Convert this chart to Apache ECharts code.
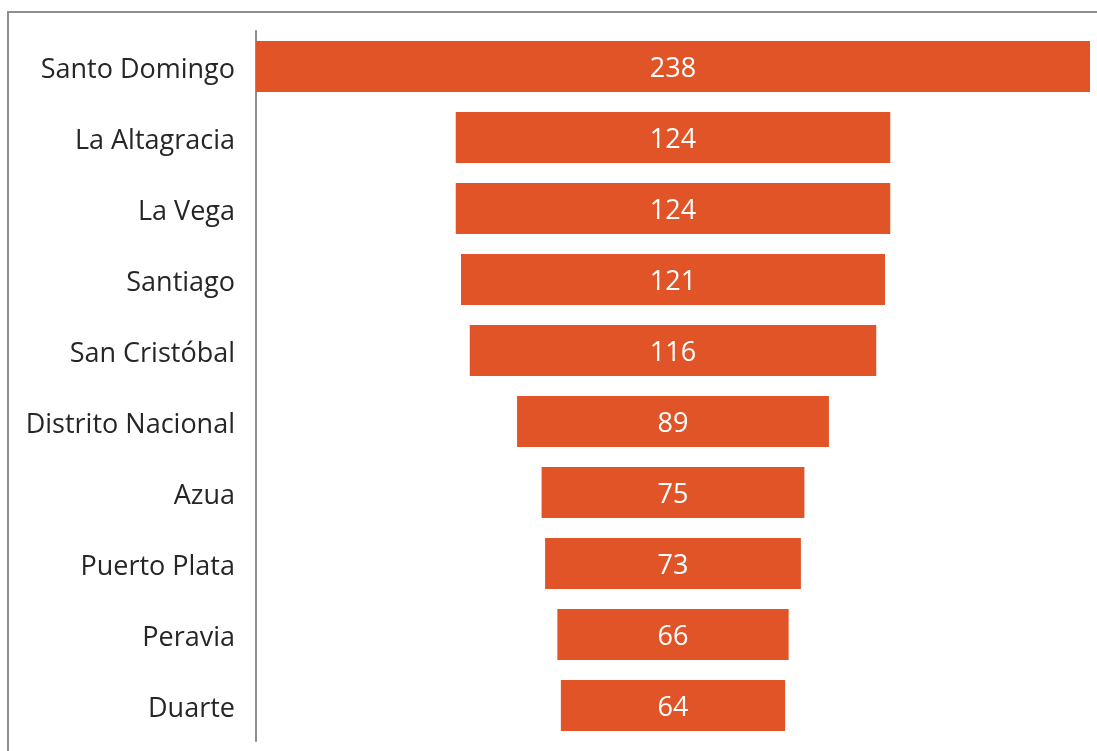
<!DOCTYPE html>
<html>
<head>
<meta charset="utf-8">
<script src="https://cdn.jsdelivr.net/npm/echarts@6/dist/echarts.min.js"></script>
<style>
  html, body { margin: 0; padding: 0; background: #fff; }
  #frame { position: absolute; left: 7px; top: 11px; width: 1090px; height: 740px;
    border-left: 2px solid #8f8f8f; border-top: 2px solid #8f8f8f; box-sizing: border-box; }
  #chart { position: absolute; left: 0; top: 0; width: 1097px; height: 751px; }
</style>
</head>
<body>
<div id="frame"></div>
<div id="chart"></div>
<script>
// provincias y cantidades
var provinces = ['Santo Domingo', 'La Altagracia', 'La Vega', 'Santiago', 'San Cristóbal',
  'Distrito Nacional', 'Azua', 'Puerto Plata', 'Peravia', 'Duarte']
var counts = [238, 124, 124, 121, 116, 89, 75, 73, 66, 64]

var maxCount = Math.max.apply(null, counts)
// desplazamiento invisible para centrar cada barra
var offsets = counts.map(function(v) { return (maxCount - v) / 2 })

var chart = echarts.init(document.getElementById('chart'))
var option = {
  animation: false,
  grid: {
    left: 256,
    right: 7,
    top: 31,
    bottom: 10,
    containLabel: false
  },
  xAxis: {
    type: 'value',
    min: 0,
    max: maxCount,
    show: false
  },
  yAxis: {
    type: 'category',
    inverse: true,
    data: provinces,
    axisLine: { show: true, lineStyle: { color: '#8c8c8c', width: 2 } },
    axisTick: { show: false },
    axisLabel: {
      margin: 21,
      formatter: function(value) {
        return '{p|' + value + '}'
      },
      rich: {
        p: {
          color: '#262626',
          fontSize: 27,
          fontFamily: 'Open Sans',
          padding: [7, 0, 0, 0]
        }
      }
    }
  },
  series: [{
    type: 'bar',
    stack: 'funnel',
    data: offsets,
    itemStyle: { color: 'transparent' },
    silent: true
  }, {
    type: 'bar',
    stack: 'funnel',
    data: counts,
    barWidth: '72%',
    itemStyle: { color: '#e05427' },
    label: {
      show: true,
      position: 'inside',
      offset: [0, 3],
      color: '#ffffff',
      fontSize: 27,
      fontFamily: 'Open Sans'
    }
  }]
}
chart.setOption(option)
</script>
</body>
</html>
